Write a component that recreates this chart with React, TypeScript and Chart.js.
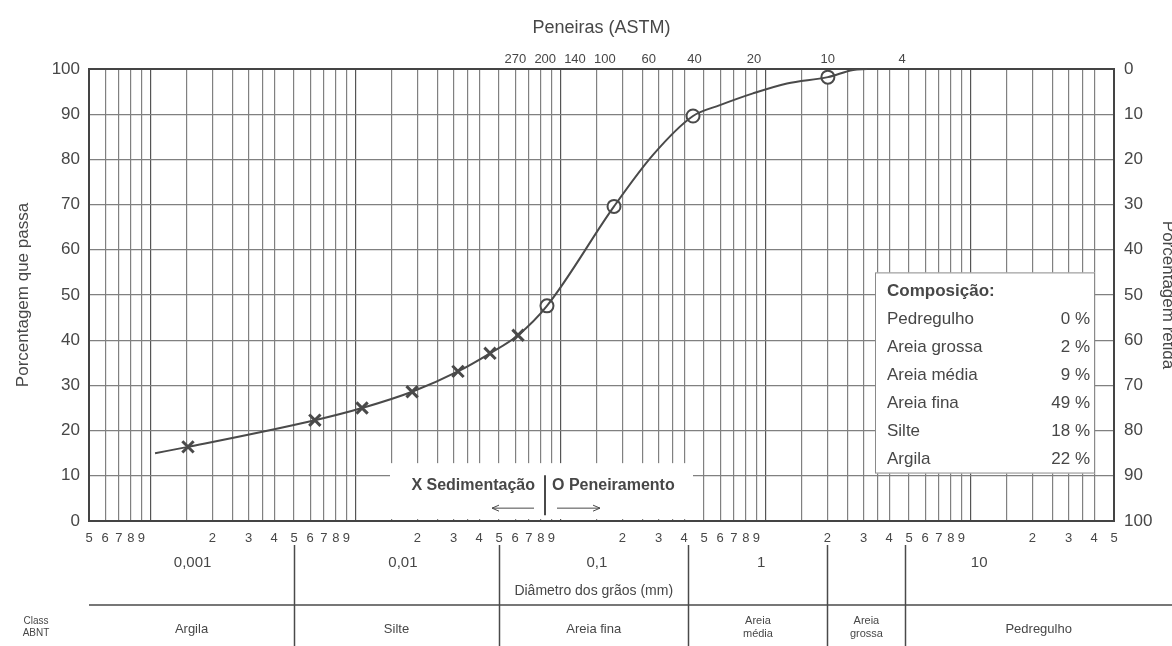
import { useEffect, useRef } from 'react';
import { Chart, registerables } from 'chart.js';

Chart.register(...registerables);

// ---------- data ----------
// Sedimentation (hydrometer) points: diameter (mm) / % passing
const SED_D = [0.00152, 0.00632, 0.01074, 0.01884, 0.03155, 0.0452, 0.0619];
const SED_P = [16.4, 22.3, 25.0, 28.6, 33.1, 37.1, 41.1];

// Sieving points: diameter (mm) / % passing
const SIEVE_PT_D = [0.0857, 0.182, 0.442, 2.01];
const SIEVE_PT_P = [47.6, 69.6, 89.6, 98.2];

// Drawn grading curve
const CURVE_D = [0.00105, 0.00152, 0.00632, 0.01074, 0.01884, 0.03155, 0.0452, 0.0619, 0.0857, 0.182, 0.282, 0.442, 0.598, 0.867, 1.27, 2.01, 2.67, 3.12];
const CURVE_P = [15.0, 16.4, 22.3, 25.0, 28.6, 33.1, 37.1, 41.1, 47.6, 69.6, 81.0, 89.6, 92.0, 94.6, 96.8, 98.2, 99.8, 100];

// ASTM sieves (top axis)
const SIEVE_NUMBERS = ['270', '200', '140', '100', '60', '40', '20', '10', '4'];
const SIEVE_MM = [0.053, 0.075, 0.106, 0.15, 0.25, 0.425, 0.85, 2.0, 4.75];

// axis ranges
const X_MIN = 0.0005;
const X_MAX = 50;
const SIEVE_AXIS_MIN = 0.000373;
const SIEVE_AXIS_MAX = 55.8;
const GRID_MANTISSAS = [1, 1.5, 2, 2.5, 3, 3.5, 4, 5, 6, 7, 8, 9];
const DIGIT_MANTISSAS = [2, 3, 4, 5, 6, 7, 8, 9];
const Y_STEP = 5;
const Y_LABEL_STEP = 10;

// decade labels under the axis
const DECADE_LABELS = ['0,001', '0,01', '0,1', '1', '10'];
const DECADE_LABEL_AT = [0.0016, 0.017, 0.15, 0.95, 11];

// ABNT classification
const CLASS_BOUNDS_MM = [0.005, 0.05, 0.42, 2.0, 4.8];
const CLASS_NAMES = [['Argila'], ['Silte'], ['Areia fina'], ['Areia', 'média'], ['Areia', 'grossa'], ['Pedregulho']];

// composition box
const COMP_LABELS = ['Pedregulho', 'Areia grossa', 'Areia média', 'Areia fina', 'Silte', 'Argila'];
const COMP_VALUES = [0, 2, 9, 49, 18, 22];

const FONT = '"Liberation Sans", Arial, sans-serif';
const TEXT = '#474747';
const LINE = '#4a4a4a';
const GRID = '#808080';
const GRID_DECADE = '#555555';

function buildGridTicks(): number[] {
  const out: number[] = [];
  for (let e = -4; e <= 1; e++) {
    for (const m of GRID_MANTISSAS) {
      const v = parseFloat((m * Math.pow(10, e)).toPrecision(6));
      if (v >= X_MIN * 0.999 && v <= X_MAX * 1.001) out.push(v);
    }
  }
  return out;
}

function mantissa(v: number): number {
  const e = Math.floor(Math.log10(v) + 1e-9);
  return Math.round((v / Math.pow(10, e)) * 100) / 100;
}

function arrow(ctx: CanvasRenderingContext2D, x1: number, y: number, x2: number) {
  const dir = x2 > x1 ? 1 : -1;
  ctx.beginPath();
  ctx.moveTo(x1, y);
  ctx.lineTo(x2, y);
  ctx.moveTo(x2, y);
  ctx.lineTo(x2 - dir * 7, y - 3);
  ctx.moveTo(x2, y);
  ctx.lineTo(x2 - dir * 7, y + 3);
  ctx.stroke();
}

const overlayPlugin = {
  id: 'soilOverlay',
  beforeDatasetsDraw(chart: any) {
    const { ctx, chartArea: ca, scales } = chart;
    const xs = scales.x;
    const ys = scales.y;
    const W = chart.width;
    const H = chart.height;
    ctx.save();

    // ---- composition box ----
    const bL = ca.right - 239, bR = ca.right - 19;
    const bT = ys.getPixelForValue(55), bB = ys.getPixelForValue(10.5);
    ctx.fillStyle = '#ffffff';
    ctx.fillRect(bL, bT, bR - bL, bB - bT);
    ctx.strokeStyle = '#8a8a8a';
    ctx.lineWidth = 1;
    ctx.strokeRect(bL + 0.5, bT + 0.5, bR - bL - 1, bB - bT - 1);
    ctx.fillStyle = TEXT;
    ctx.textBaseline = 'middle';
    ctx.textAlign = 'left';
    ctx.font = `bold 17px ${FONT}`;
    ctx.fillText('Composição:', bL + 12, bT + 19);
    ctx.font = `17px ${FONT}`;
    COMP_LABELS.forEach((lab, i) => {
      const yy = bT + 47 + i * 28;
      ctx.textAlign = 'left';
      ctx.fillText(lab, bL + 12, yy);
      ctx.textAlign = 'right';
      ctx.fillText(`${COMP_VALUES[i]} %`, bR - 5, yy);
    });

    // ---- sedimentation / sieving legend box ----
    const sL = ca.left + 301, sR = ca.left + 604;
    const sT = ys.getPixelForValue(12.8), sB = ca.bottom - 2;
    ctx.fillStyle = '#ffffff';
    ctx.fillRect(sL, sT, sR - sL, sB - sT);
    const mid = ca.left + 456;
    ctx.fillStyle = TEXT;
    ctx.font = `bold 16px ${FONT}`;
    ctx.textAlign = 'right';
    ctx.fillText('X Sedimentação', mid - 10, sT + 22);
    ctx.textAlign = 'left';
    ctx.fillText('O Peneiramento', mid + 7, sT + 22);
    ctx.strokeStyle = LINE;
    ctx.lineWidth = 2;
    ctx.beginPath();
    ctx.moveTo(mid, sT + 12);
    ctx.lineTo(mid, sT + 52);
    ctx.stroke();
    ctx.lineWidth = 1;
    arrow(ctx, mid - 11, sT + 45, mid - 53);
    arrow(ctx, mid + 12, sT + 45, mid + 55);

    // ---- bottom: decade labels ----
    const b = ca.bottom;
    ctx.fillStyle = TEXT;
    ctx.textAlign = 'center';
    ctx.font = `15px ${FONT}`;
    DECADE_LABELS.forEach((lab, i) => {
      ctx.fillText(lab, xs.getPixelForValue(DECADE_LABEL_AT[i]), b + 42);
    });
    const p1 = xs.getPixelForValue(CLASS_BOUNDS_MM[1]);
    const p2 = xs.getPixelForValue(CLASS_BOUNDS_MM[2]);
    ctx.font = `14px ${FONT}`;
    ctx.fillText('Diâmetro dos grãos (mm)', (p1 + p2) / 2, b + 70);

    // horizontal rule
    ctx.strokeStyle = LINE;
    ctx.lineWidth = 1.5;
    ctx.beginPath();
    ctx.moveTo(ca.left, b + 84);
    ctx.lineTo(W, b + 84);
    ctx.stroke();

    // class separators
    ctx.lineWidth = 1.5;
    const edges = [ca.left, ...CLASS_BOUNDS_MM.map((v) => xs.getPixelForValue(v)), W];
    CLASS_BOUNDS_MM.forEach((v) => {
      const px = Math.round(xs.getPixelForValue(v)) + 0.5;
      ctx.beginPath();
      ctx.moveTo(px, b + 24);
      ctx.lineTo(px, H);
      ctx.stroke();
    });

    // class names
    CLASS_NAMES.forEach((lines, i) => {
      const cx = (edges[i] + edges[i + 1]) / 2;
      if (lines.length === 1) {
        ctx.font = `13px ${FONT}`;
        ctx.fillText(lines[0], cx, b + 108);
      } else {
        ctx.font = `11px ${FONT}`;
        ctx.fillText(lines[0], cx, b + 100);
        ctx.fillText(lines[1], cx, b + 113);
      }
    });
    ctx.font = `10px ${FONT}`;
    ctx.fillText('Class', 36, b + 100);
    ctx.fillText('ABNT', 36, b + 112);

    ctx.restore();
  },
};

export default function App() {
  const ref = useRef<HTMLCanvasElement>(null);

  useEffect(() => {
    document.body.style.margin = '0';
    const canvas = ref.current;
    if (!canvas) return;
    const gridTicks = buildGridTicks();

    const chart = new Chart(canvas, {
      type: 'scatter',
      data: {
        datasets: [
          {
            label: 'Curva',
            data: CURVE_D.map((d, i) => ({ x: d, y: CURVE_P[i] })),
            showLine: true,
            borderColor: LINE,
            borderWidth: 2,
            pointRadius: 0,
            cubicInterpolationMode: 'monotone',
            xAxisID: 'x',
            yAxisID: 'y',
          },
          {
            label: 'Sedimentação',
            data: SED_D.map((d, i) => ({ x: d, y: SED_P[i] })),
            showLine: false,
            pointStyle: 'crossRot',
            pointRadius: 8,
            borderColor: '#4a4a4a',
            borderWidth: 3,
            xAxisID: 'x',
            yAxisID: 'y',
          },
          {
            label: 'Peneiramento',
            data: SIEVE_PT_D.map((d, i) => ({ x: d, y: SIEVE_PT_P[i] })),
            showLine: false,
            pointStyle: 'circle',
            pointRadius: 6.5,
            backgroundColor: '#ffffff',
            borderColor: '#4a4a4a',
            borderWidth: 2,
            xAxisID: 'x',
            yAxisID: 'y',
          },
        ],
      } as any,
      options: {
        animation: false,
        responsive: false,
        maintainAspectRatio: false,
        layout: { padding: 0 },
        plugins: {
          legend: { display: false },
          tooltip: { enabled: false },
        },
        scales: {
          x: {
            type: 'logarithmic',
            position: 'bottom',
            min: X_MIN,
            max: X_MAX,
            afterBuildTicks: (s: any) => {
              s.ticks = gridTicks.map((v) => ({ value: v }));
            },
            afterFit: (s: any) => {
              s.height = 125;
            },
            ticks: {
              autoSkip: false,
              maxRotation: 0,
              minRotation: 0,
              padding: 10,
              color: TEXT,
              font: { family: FONT, size: 13 },
              callback: (v: any) => {
                const m = mantissa(Number(v));
                return DIGIT_MANTISSAS.includes(m) ? String(m) : '';
              },
            },
            grid: {
              drawTicks: false,
              lineWidth: 1.2,
              color: (c: any) => (c.tick && mantissa(c.tick.value) === 1 ? GRID_DECADE : GRID),
            },
            border: { display: true, color: '#444', width: 2 },
          },
          x2: {
            type: 'logarithmic',
            position: 'top',
            min: SIEVE_AXIS_MIN,
            max: SIEVE_AXIS_MAX,
            afterBuildTicks: (s: any) => {
              s.ticks = SIEVE_MM.map((v) => ({ value: v }));
            },
            afterFit: (s: any) => {
              s.height = 69;
            },
            ticks: {
              autoSkip: false,
              maxRotation: 0,
              minRotation: 0,
              padding: 2,
              color: TEXT,
              font: { family: FONT, size: 13 },
              callback: (_v: any, i: number) => SIEVE_NUMBERS[i],
            },
            grid: { display: false, drawTicks: false },
            border: { display: true, color: '#444', width: 2 },
            title: {
              display: true,
              text: 'Peneiras (ASTM)',
              color: TEXT,
              font: { family: FONT, size: 18 },
              padding: { top: 17, bottom: 0 },
            },
          },
          y: {
            position: 'left',
            min: 0,
            max: 100,
            afterFit: (s: any) => {
              s.width = 89;
            },
            ticks: {
              stepSize: Y_STEP,
              padding: 9,
              color: TEXT,
              font: { family: FONT, size: 17 },
              callback: (v: any) => (Number(v) % Y_LABEL_STEP === 0 ? String(v) : ''),
            },
            grid: { drawTicks: false, color: GRID, lineWidth: 1.2 },
            border: { display: true, color: '#444', width: 2 },
            title: {
              display: true,
              text: 'Porcentagem que passa',
              color: TEXT,
              font: { family: FONT, size: 17 },
              padding: { top: 13, bottom: 0 },
            },
          },
          y2: {
            position: 'right',
            min: 0,
            max: 100,
            reverse: true,
            afterFit: (s: any) => {
              s.width = 58;
            },
            ticks: {
              stepSize: Y_LABEL_STEP,
              padding: 10,
              color: TEXT,
              font: { family: FONT, size: 17 },
            },
            grid: { display: false, drawTicks: false },
            border: { display: true, color: '#444', width: 2 },
            title: {
              display: true,
              text: 'Porcentagem retida',
              color: TEXT,
              font: { family: FONT, size: 17 },
              padding: { top: -6, bottom: 0 },
            },
          },
        },
      } as any,
      plugins: [overlayPlugin as any],
    });

    return () => chart.destroy();
  }, []);

  return (
    <div style={{ width: 1172, height: 646, background: '#ffffff' }}>
      <canvas ref={ref} width={1172} height={646} style={{ display: 'block' }} />
    </div>
  );
}
